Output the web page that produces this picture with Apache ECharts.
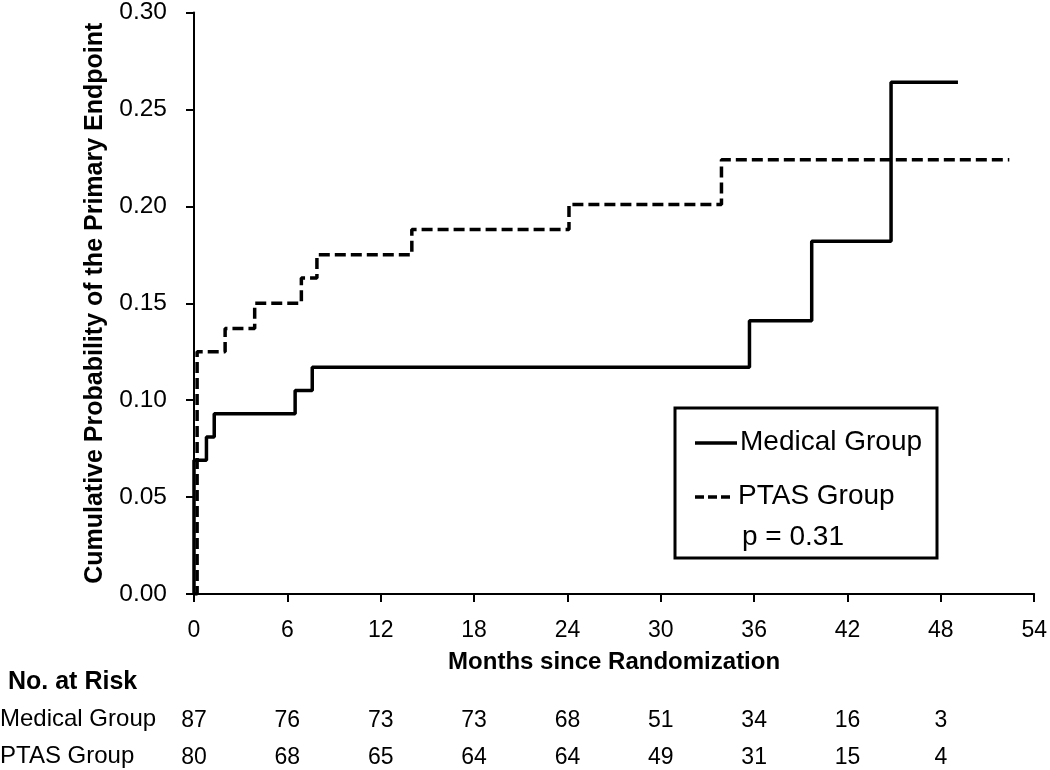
<!DOCTYPE html>
<html>
<head>
<meta charset="utf-8">
<script src="https://cdn.jsdelivr.net/npm/echarts@6/dist/echarts.min.js"></script>
<style>html,body{margin:0;padding:0;background:#fff}#c{width:1050px;height:770px}</style>
</head>
<body>
<div id="c"></div>
<script>
// Kaplan-Meier step data: [months, cumulative probability]
const medicalTimes = [0, 0, 0.8, 1.3, 6.5, 7.6, 35.7, 39.7, 44.8, 49.1];
const medicalProb  = [0, 0.069, 0.081, 0.093, 0.105, 0.117, 0.141, 0.182, 0.264, 0.264];
const ptasTimes = [0, 0.2, 2.0, 3.9, 6.9, 7.9, 14.0, 24.1, 33.9, 52.4];
const ptasProb  = [0, 0.125, 0.137, 0.150, 0.163, 0.175, 0.188, 0.201, 0.224, 0.224];
// Number at risk at months 0,6,...,48
const riskMonths = [0, 6, 12, 18, 24, 30, 36, 42, 48];
const medicalRisk = [87, 76, 73, 73, 68, 51, 34, 16, 3];
const ptasRisk = [80, 68, 65, 64, 64, 49, 31, 15, 4];
const seriesNames = ['Medical Group', 'PTAS Group'];
const pText = 'p = 0.31';

const FONT = 'Liberation Sans, Arial, sans-serif';
const chart = echarts.init(document.getElementById('c'), null, {renderer: 'canvas'});

function riskAxis(values, margin) {
  return {
    type: 'value', min: 0, max: 54, interval: 6, position: 'bottom',
    axisLine: {show: false}, axisTick: {show: false}, splitLine: {show: false},
    axisLabel: {
      margin: margin, color: '#000', fontFamily: FONT, fontSize: 23,
      formatter: v => { const i = riskMonths.indexOf(v); return i >= 0 ? String(values[i]) : ''; }
    }
  };
}

const option = {
  backgroundColor: '#fff',
  animation: false,
  grid: {left: 194, right: 12, top: 8, bottom: 176},
  xAxis: [
    {
      type: 'value', min: 0, max: 54, interval: 6,
      name: 'Months since Randomization', nameLocation: 'middle', nameGap: 56,
      nameTextStyle: {fontFamily: FONT, fontWeight: 'bold', fontSize: 24, color: '#000'},
      axisLine: {lineStyle: {color: '#000', width: 2}},
      axisTick: {length: 8, lineStyle: {color: '#000', width: 2}},
      splitLine: {show: false},
      axisLabel: {margin: 25, color: '#000', fontFamily: FONT, fontSize: 23}
    },
    riskAxis(medicalRisk, 115),
    riskAxis(ptasRisk, 152)
  ],
  yAxis: {
    type: 'value', min: 0, max: 0.3, interval: 0.05,
    name: 'Cumulative Probability of the Primary Endpoint', nameLocation: 'middle', nameGap: 86,
    nameTextStyle: {fontFamily: FONT, fontWeight: 'bold', fontSize: 25, color: '#000'},
    axisLine: {show: true, lineStyle: {color: '#000', width: 2}},
    axisTick: {show: true, length: 8, lineStyle: {color: '#000', width: 2}},
    splitLine: {show: false},
    axisLabel: {margin: 27, color: '#000', fontFamily: FONT, fontSize: 24.5, formatter: v => v.toFixed(2)}
  },
  series: [
    {
      name: seriesNames[0], type: 'line', step: 'end', symbol: 'none',
      data: medicalTimes.map((t, i) => [t, medicalProb[i]]),
      lineStyle: {color: '#000', width: 3.5, type: 'solid'}, z: 3
    },
    {
      name: seriesNames[1], type: 'line', step: 'end', symbol: 'none',
      data: ptasTimes.map((t, i) => [t, ptasProb[i]]),
      lineStyle: {color: '#000', width: 3.5, type: [11, 5]}, z: 2
    }
  ],
  graphic: [
    {type: 'rect', shape: {x: 675, y: 408, width: 262, height: 150},
     style: {fill: '#fff', stroke: '#000', lineWidth: 3}, z: 10},
    {type: 'line', shape: {x1: 695, y1: 443, x2: 737, y2: 443}, style: {stroke: '#000', lineWidth: 3.5}, z: 11},
    {type: 'text', left: 740, top: 428, style: {text: seriesNames[0], font: '28px ' + FONT, fill: '#000'}, z: 11},
    {type: 'line', shape: {x1: 695, y1: 497, x2: 734, y2: 497}, style: {stroke: '#000', lineWidth: 3.5, lineDash: [9, 4]}, z: 11},
    {type: 'text', left: 738, top: 482, style: {text: seriesNames[1], font: '28px ' + FONT, fill: '#000'}, z: 11},
    {type: 'text', left: 742, top: 523, style: {text: pText, font: '28px ' + FONT, fill: '#000'}, z: 11},
    {type: 'text', left: 8, top: 670, style: {text: 'No. at Risk', font: 'bold 25px ' + FONT, fill: '#000'}},
    {type: 'text', left: 0, top: 707, style: {text: seriesNames[0], font: '24px ' + FONT, fill: '#000'}},
    {type: 'text', left: 0, top: 744, style: {text: seriesNames[1], font: '24px ' + FONT, fill: '#000'}}
  ]
};
chart.setOption(option);
</script>
</body>
</html>
